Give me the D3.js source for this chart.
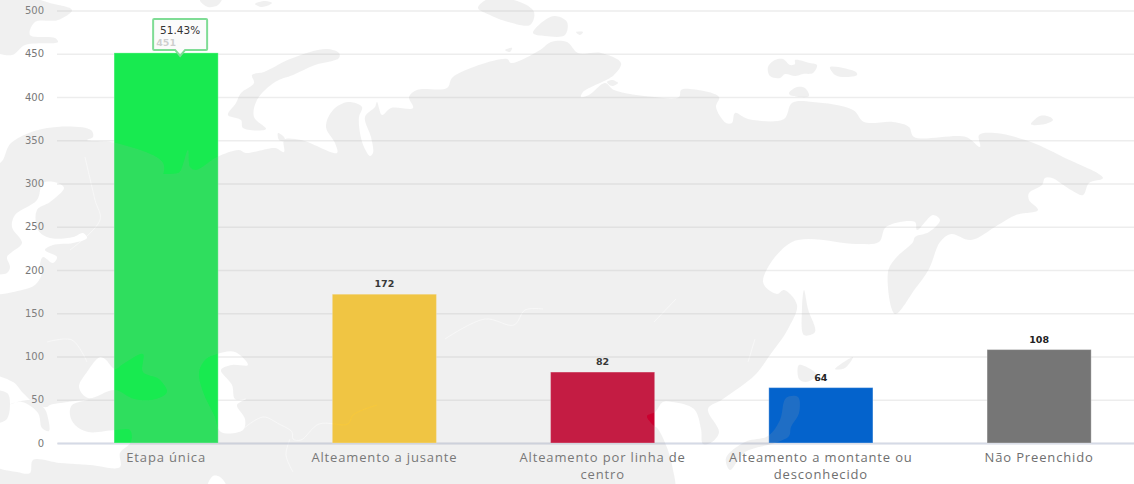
<!DOCTYPE html>
<html lang="pt">
<head>
<meta charset="utf-8">
<title>Alteamento</title>
<script src="https://cdn.jsdelivr.net/npm/d3@7"></script>
<style>
  html, body { margin: 0; padding: 0; background: #fff; overflow: hidden; }
  svg { display: block; }
  text { font-family: "DejaVu Sans", sans-serif; }
</style>
</head>
<body>
<div id="grafic"></div>
<script>
// Dades del grafic
const categories = ["Etapa única", "Alteamento a jusante", "Alteamento por linha de centro", "Alteamento a montante ou desconhecido", "Não Preenchido"];
const valors = [451, 172, 82, 64, 108];
const colors = ["#18ea50", "#ffcc30", "#cb002f", "#0463cc", "#767676"];
const ticksY = [0, 50, 100, 150, 200, 250, 300, 350, 400, 450, 500];

// Mapa de fons: decoracio, contorns aproximats en pixels de la pagina
const continent = [[-30,163],[0,163],[11,143],[47,128],[91,130],[93,137],[87,140],[116,143],[163,163],[159,183],[136,197],[127,190],[123,177],[178,173],[181,170],[188,150],[190,167],[196,170],[217,157],[239,150],[246,153],[275,148],[284,152],[284,140],[301,140],[337,153],[335,143],[326,127],[333,110],[348,102],[362,107],[359,117],[360,133],[364,147],[370,156],[373,153],[371,137],[365,117],[375,107],[377,102],[382,115],[391,108],[413,108],[409,97],[417,90],[447,88],[453,77],[507,59],[511,63],[540,50],[551,42],[567,42],[578,53],[601,53],[621,63],[614,75],[583,92],[581,97],[589,95],[605,83],[614,90],[654,97],[679,97],[681,90],[690,89],[719,97],[716,107],[726,123],[732,123],[735,113],[748,119],[784,119],[792,103],[813,102],[853,110],[864,122],[893,122],[909,127],[914,137],[966,137],[980,147],[979,135],[995,133],[1031,142],[1063,157],[1103,178],[1089,183],[1083,195],[1071,190],[1052,178],[1045,178],[1042,185],[1029,193],[1029,200],[1038,210],[1016,215],[998,225],[971,240],[951,234],[940,242],[929,269],[915,289],[895,314],[888,272],[895,259],[913,242],[915,237],[929,232],[940,220],[933,215],[917,230],[915,222],[886,227],[879,242],[857,244],[792,242],[763,282],[777,294],[784,290],[797,305],[788,329],[770,355],[755,375],[723,399],[708,409],[719,432],[712,442],[703,444],[701,429],[694,409],[672,402],[663,402],[655,412],[647,416],[653,425],[658,429],[672,465],[670,500],[-30,500]];

const illes = [
  [[-10,5],[25,-3],[50,3],[72,10],[58,20],[35,22],[30,35],[55,38],[58,42],[25,45],[12,55],[-10,48]],
  [[200,0],[222,-2],[218,5],[208,7]],
  [[255,4],[265,1],[272,3],[262,7]],
  [[478,8],[490,-2],[520,2],[534,12],[530,25],[505,21],[490,15]],
  [[533,33],[545,20],[555,16],[567,22],[565,35],[545,36]],
  [[505,50],[512,48],[510,52]],
  [[576,32],[583,32],[580,35]],
  [[228,115],[236,103],[241,93],[254,83],[252,75],[264,72],[290,59],[326,49],[339,53],[339,58],[315,65],[293,75],[275,82],[257,100],[254,117],[266,129],[243,128],[241,120]],
  [[278,133],[284,137],[285,141],[279,140]],
  [[607,82],[612,80],[618,83],[612,86]],
  [[768,67],[775,60],[783,59],[790,65],[795,64],[795,60],[810,63],[817,65],[813,73],[803,74],[795,76],[785,74],[780,78],[770,76]],
  [[830,67],[856,72],[857,75],[845,77],[835,75]],
  [[789,93],[797,87],[805,88],[809,96],[800,97],[790,95]],
  [[1031,124],[1040,116],[1050,117],[1053,120],[1045,124],[1033,125]],
  [[804,290],[808,309],[815,332],[804,335],[802,309]],
  [[799,365],[817,375],[806,382],[799,379]],
  [[835,369],[853,357],[845,368]],
  [[786,398],[798,397],[799,413],[791,427],[789,436],[775,443],[745,452],[730,470],[726,458],[745,442],[768,436],[780,420]]
];

// Mars interiors, en blanc per sobre del continent
const mars = [
  [[43,183],[58,183],[64,188],[50,202],[37,210],[38,230],[50,238],[73,237],[83,233],[87,238],[73,243],[53,245],[45,250],[57,257],[53,263],[43,257],[40,265],[42,273],[35,285],[22,290],[-10,293],[-10,277],[7,273],[10,267],[7,257],[12,252],[22,243],[12,227],[15,215],[37,200]],
  [[-10,377],[13,382],[23,393],[37,405],[47,407],[50,405],[68,402],[88,400],[72,405],[70,415],[75,425],[88,432],[115,430],[130,430],[131,442],[120,453],[120,467],[90,465],[60,463],[33,460],[30,473],[17,472],[-10,462]],
  [[100,357],[87,372],[79,387],[88,398],[115,390],[134,399],[156,399],[167,392],[159,379],[143,372],[143,354],[123,364],[115,369],[105,359]],
  [[217,354],[235,352],[248,365],[232,365],[221,370],[232,385],[235,399],[246,399],[237,405],[245,419],[243,430],[221,432],[214,415],[203,392],[199,372],[206,359]],
  [[208,486],[213,476],[220,477],[226,486]]
];

// Peninsules dins de la Mediterrania
const peninsules = [
  [[-10,392],[7,393],[10,403],[6,420],[-10,422]],
  [[8,405],[22,402],[38,413],[42,428],[49,431],[48,418],[44,408],[30,400]]
];

const fronteres = [
  [[243,429],[263,417],[279,424],[292,432],[293,439],[301,440],[319,424],[348,424],[353,415],[377,405]],
  [[445,339],[485,319],[514,325],[525,310],[543,309]],
  [[676,299],[654,322]],
  [[755,339],[748,362]],
  [[47,342],[72,340],[87,362]],
  [[85,157],[95,200],[100,220],[70,250]],
  [[290,439],[286,455],[293,472]]
];

const ample = 1134;
const alt = 484;
const margen = {superior: 10.5, inferior: 41, esquerra: 57};

const svg = d3.select("#grafic")
  .append("svg")
  .attr("width", ample)
  .attr("height", alt);

const escalaX = d3.scaleBand()
  .domain(categories)
  .range([margen.esquerra, margen.esquerra + 5 * 218.25])
  .paddingInner(0.523)
  .paddingOuter(0.2615);

const escalaY = d3.scaleLinear()
  .domain([0, 500])
  .range([alt - margen.inferior, margen.superior]);

// Eix Y amb les linies de graella
const eixY = svg.append("g")
  .attr("transform", `translate(${margen.esquerra}, 0)`)
  .call(d3.axisLeft(escalaY).tickValues(ticksY).tickSize(-(ample - margen.esquerra)).tickPadding(13));
eixY.select(".domain").remove();
eixY.selectAll("line").attr("stroke", "#ededed").attr("stroke-width", 1.5);
eixY.selectAll("text").attr("fill", "#777").attr("font-size", 10);

// Eix X
const eixX = svg.append("g")
  .attr("transform", `translate(0, ${alt - margen.inferior})`)
  .call(d3.axisBottom(escalaX).tickSize(0).tickPadding(10));
eixX.select(".domain").attr("stroke", "#d5dae6").attr("stroke-width", 2);
eixX.selectAll("text")
  .attr("fill", "#6f6f6f")
  .attr("font-size", 13)
  .style("font-family", "'Open Sans', sans-serif")
  .attr("letter-spacing", 0.85)
  .call(partirText, 200);

function partirText(textos, maxim) {
  textos.each(function () {
    const text = d3.select(this);
    const paraules = text.text().split(" ");
    const y = +text.attr("y");
    text.text(null);
    let linia = [];
    let fila = 0;
    let tspan = text.append("tspan").attr("x", 0).attr("y", y).attr("dy", "0.71em");
    paraules.forEach(p => {
      linia.push(p);
      tspan.text(linia.join(" "));
      if (tspan.node().getComputedTextLength() > maxim) {
        linia.pop();
        tspan.text(linia.join(" "));
        linia = [p];
        fila++;
        tspan = text.append("tspan").attr("x", 0).attr("y", y + fila * 17)
          .attr("dy", "0.71em").text(p);
      }
    });
  });
}

// Barres
svg.selectAll(".barra")
  .data(valors)
  .enter()
  .append("rect")
  .attr("class", "barra")
  .attr("x", (d, i) => escalaX(categories[i]))
  .attr("y", d => escalaY(d))
  .attr("width", escalaX.bandwidth())
  .attr("height", d => escalaY(0) - escalaY(d))
  .attr("fill", (d, i) => colors[i])
  .attr("stroke", "rgba(255,255,255,0.3)");

// Valors damunt de les barres
svg.selectAll(".valor")
  .data(valors)
  .enter()
  .append("text")
  .attr("class", "valor")
  .attr("x", (d, i) => escalaX(categories[i]) + escalaX.bandwidth() / 2)
  .attr("y", d => escalaY(d) - 7)
  .attr("text-anchor", "middle")
  .attr("font-size", 9.5)
  .attr("font-weight", "bold")
  .attr("fill", "#222")
  .text(d => d);

// Tooltip de la primera barra
const total = d3.sum(valors);
const cx = escalaX(categories[0]) + escalaX.bandwidth() / 2 + 14;
const peu = escalaY(valors[0]) + 3;
const tip = svg.append("g").attr("transform", `translate(${cx}, ${peu})`);
tip.append("path")
  .attr("d", "M-26,-37 H26 Q27,-37 27,-36 V-7 Q27,-6 26,-6 H5 L0,0 L-5,-6 H-26 Q-27,-6 -27,-7 V-36 Q-27,-37 -26,-37 Z")
  .attr("fill", "rgba(250,250,250,0.8)")
  .attr("stroke", "#7fdc95")
  .attr("stroke-width", 2);
tip.append("text")
  .attr("y", -22)
  .attr("text-anchor", "middle")
  .attr("font-size", 10.5)
  .attr("fill", "#333")
  .text((valors[0] / total * 100).toFixed(2) + "%");

// El mapa va per sobre de tot, semitransparent
const linia = d3.line().curve(d3.curveCatmullRomClosed.alpha(0.5));
const obert = d3.line().curve(d3.curveCatmullRom.alpha(0.5));
const defs = svg.append("defs");
const mascara = defs.append("mask").attr("id", "terra");
mascara.append("path").attr("d", linia(continent)).attr("fill", "#fff");
illes.forEach(p => mascara.append("path").attr("d", linia(p)).attr("fill", "#fff"));
mars.forEach(p => mascara.append("path").attr("d", linia(p)).attr("fill", "#000"));
peninsules.forEach(p => mascara.append("path").attr("d", linia(p)).attr("fill", "#fff"));
fronteres.forEach(p => mascara.append("path").attr("d", obert(p))
  .attr("fill", "none").attr("stroke", "#000").attr("stroke-opacity", 0.6).attr("stroke-width", 0.8));

svg.append("rect")
  .attr("width", ample)
  .attr("height", alt)
  .attr("fill", "rgb(168,168,168)")
  .attr("fill-opacity", 0.167)
  .attr("mask", "url(#terra)")
  .attr("pointer-events", "none");
</script>
</body>
</html>
